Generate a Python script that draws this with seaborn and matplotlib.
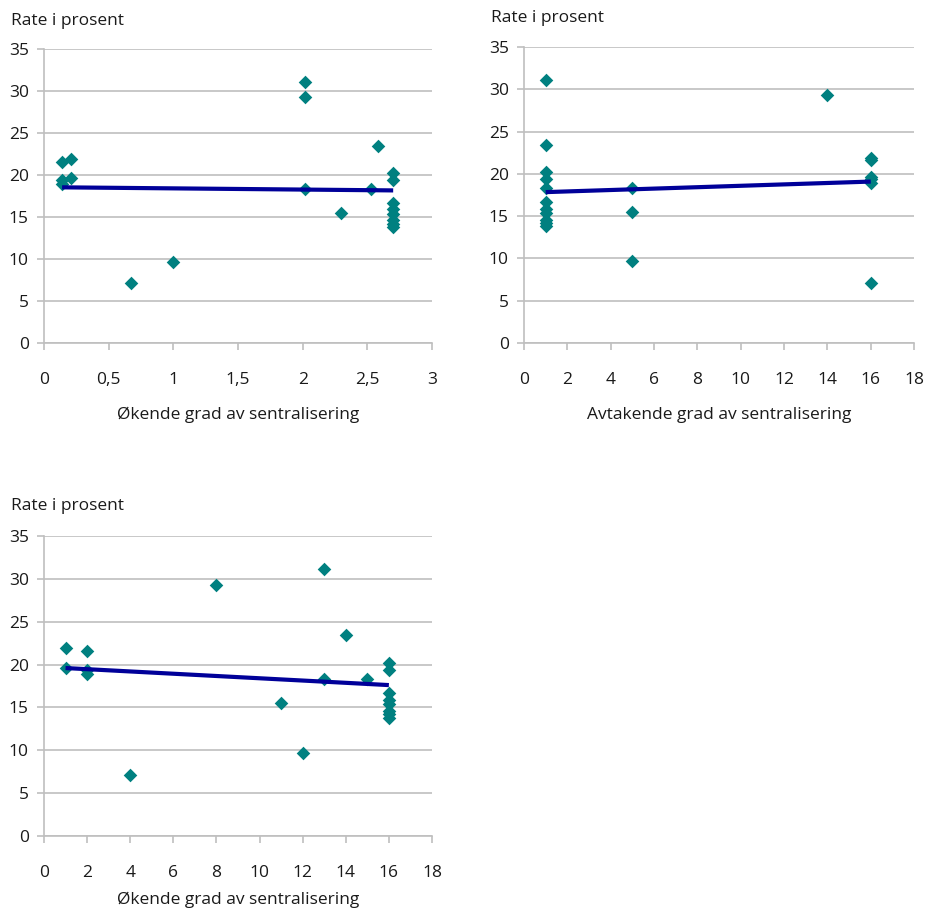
import numpy as np
import pandas as pd
import seaborn as sns
import matplotlib.pyplot as plt

# Rate i prosent per region (21 regioner)
rate = [21.9, 19.6, 21.6, 19.4, 18.9, 7.1, 29.3, 15.5, 9.7, 31.1, 18.3,
        23.4, 18.3, 20.2, 19.4, 16.7, 15.9, 15.4, 14.6, 14.2, 13.8]
# x-verdier for hvert panel
sentral_1 = [0.21, 0.21, 0.14, 0.14, 0.14, 0.67, 2.02, 2.30, 1.0, 2.02, 2.02,
             2.58, 2.53, 2.70, 2.70, 2.70, 2.70, 2.70, 2.70, 2.70, 2.70]
sentral_2 = [16, 16, 16, 16, 16, 16, 14, 5, 5, 1, 5,
             1, 1, 1, 1, 1, 1, 1, 1, 1, 1]
sentral_3 = [1, 1, 2, 2, 2, 4, 8, 11, 12, 13, 13,
             14, 15, 16, 16, 16, 16, 16, 16, 16, 16]

xticks_1 = [0, 0.5, 1, 1.5, 2, 2.5, 3]
xticklabels_1 = ["0", "0,5", "1", "1,5", "2", "2,5", "3"]
xticks_2 = list(range(0, 19, 2))
yticks = list(range(0, 36, 5))

xlabels = ["Økende grad av sentralisering",
           "Avtakende grad av sentralisering",
           "Økende grad av sentralisering"]

df = pd.DataFrame({"rate": rate, "x1": sentral_1, "x2": sentral_2, "x3": sentral_3})

sns.set_style("white")
plt.rcParams["font.family"] = ["Open Sans", "DejaVu Sans"]
plt.rcParams["font.size"] = 12.5

teal = "#008080"
navy = "#000099"
grid = "#BFBFBF"
txt = "#1a1a1a"

fig = plt.figure(figsize=(9.26, 9.08), dpi=100)
ax1 = fig.add_axes([0.0475, 0.6222, 0.419, 0.3238])
ax2 = fig.add_axes([0.5659, 0.6222, 0.4212, 0.326])
ax3 = fig.add_axes([0.0475, 0.0793, 0.419, 0.3304])

panels = [(ax1, "x1", xticks_1, xticklabels_1, 3),
          (ax2, "x2", xticks_2, [str(t) for t in xticks_2], 18),
          (ax3, "x3", xticks_2, [str(t) for t in xticks_2], 18)]

for i, (ax, col, xt, xtl, xmax) in enumerate(panels):
    sns.regplot(data=df, x=col, y="rate", ax=ax, ci=None, truncate=True,
                marker="D",
                scatter_kws={"s": 48, "color": teal, "alpha": 1,
                             "linewidths": 0, "zorder": 3},
                line_kws={"color": navy, "linewidth": 3, "zorder": 4,
                          "solid_capstyle": "butt"})
    ax.set_xlim(0, xmax)
    ax.set_ylim(0, 35)
    ax.set_xticks(xt)
    ax.set_xticklabels(xtl)
    ax.set_yticks(yticks)
    ax.yaxis.grid(True, color=grid, linewidth=1.2)
    ax.set_axisbelow(True)
    for s in ["top", "right"]:
        ax.spines[s].set_visible(False)
    for s in ["left", "bottom"]:
        ax.spines[s].set_color(grid)
        ax.spines[s].set_linewidth(1.2)
    ax.tick_params(axis="x", direction="out", length=5, width=1.2, color=grid,
                   pad=16, labelsize=12.5, labelcolor=txt)
    ax.tick_params(axis="y", direction="out", length=5, width=1.2, color=grid,
                   pad=6, labelsize=12.5, labelcolor=txt)
    ax.xaxis.set_ticks_position("bottom")
    ax.yaxis.set_ticks_position("left")
    ax.set_ylabel("")
    ax.set_xlabel(xlabels[i], fontsize=12.5, color=txt)
    ax.text(-0.085, 1.097 if i != 2 else 1.1,
            "Rate i prosent", transform=ax.transAxes, fontsize=12.5, color=txt,
            ha="left", va="center")

ax1.xaxis.set_label_coords(0.5, -0.215)
ax2.xaxis.set_label_coords(0.5, -0.215)
ax3.xaxis.set_label_coords(0.5, -0.185)

fig.savefig("out.png", dpi=100)
